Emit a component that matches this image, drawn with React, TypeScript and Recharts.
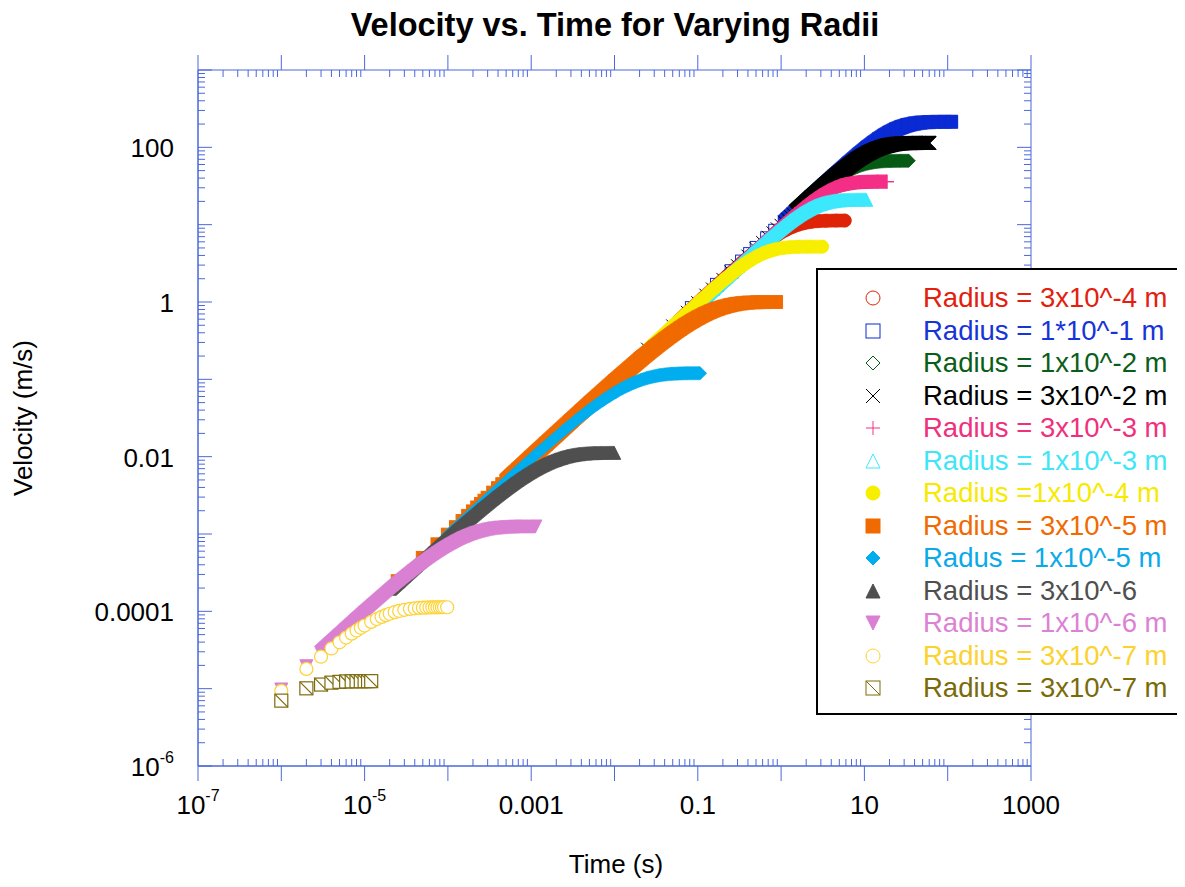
import React from 'react';
import { ScatterChart, Scatter, XAxis, YAxis, ReferenceArea } from 'recharts';

const W = 1169;
const H = 871;
const PLOT_W = 833;
const PLOT_H = 696;
const AXIS = '#4a68dc';
const FONT = '"Liberation Sans", Arial, Helvetica, sans-serif';
const MK = 13;

// axis ticks
const xMajor = [1e-7, 1e-6, 1e-5, 1e-4, 1e-3, 1e-2, 1e-1, 1, 10, 100, 1000];
const yMajor = [1e-6, 1e-5, 1e-4, 1e-3, 1e-2, 1e-1, 1, 10, 100, 1000];
const minorSteps = [2, 3, 4, 5, 6, 7, 8, 9];
const xLabelValues = [1e-7, 1e-5, 1e-3, 1e-1, 10, 1000];
const xLabelTexts = ['10^-7', '10^-5', '0.001', '0.1', '10', '1000'];
const yLabelValues = [1e-6, 1e-4, 1e-2, 1, 100];
const yLabelTexts = ['10^-6', '0.0001', '0.01', '1', '100'];

// [time (s), velocity (m/s)]
const red = [[0.02, 0.196], [0.06, 0.588], [0.115, 1.123], [0.23, 2.225], [0.345, 3.284], [0.46, 4.28], [0.575, 5.21], [0.69, 6.05], [0.81, 6.85], [0.92, 7.49], [1.15, 8.59], [1.38, 9.41], [1.61, 10.0], [1.85, 10.42], [2.3, 10.89], [2.77, 11.12], [3.45, 11.24], [4.6, 11.29], [5.8, 11.3]];
const blue = [[0.085, 0.833], [0.17, 1.666], [0.255, 2.5], [0.34, 3.33], [0.425, 4.16], [0.51, 5.0], [0.68, 6.66], [0.85, 8.33], [1.1, 10.78], [2.2, 21.5], [3.3, 32.1], [4.4, 42.5], [6.5, 61.9], [8.7, 81.0], [11, 99.5], [13, 114.1], [15, 127.5], [17.5, 142.2], [20, 154.9], [24, 171.2], [28, 183.4], [33, 194.1], [40, 203.3], [48, 208.8], [60, 212.2], [75, 213.6], [92, 213.9], [110, 214]];
const green = [[0.35, 3.43], [0.7, 6.83], [1.4, 13.5], [2.05, 19.5], [2.75, 25.6], [3.4, 30.8], [4.1, 35.9], [4.8, 40.6], [5.5, 44.6], [6.85, 51.0], [8.2, 55.8], [9.6, 59.4], [11, 61.8], [13.7, 64.6], [16.5, 65.9], [20.5, 66.7], [27, 66.9], [34, 67]];
const black = [[0.025, 0.245], [0.05, 0.49], [0.075, 0.735], [0.1, 0.98], [0.125, 1.225], [0.15, 1.47], [0.2, 1.96], [0.25, 2.45], [0.3, 2.94], [0.4, 3.92], [0.5, 4.9], [0.6, 5.88], [0.7, 6.86], [0.8, 7.84], [0.9, 8.82], [1.0, 9.79], [1.1, 10.77], [1.2, 11.74], [1.3, 12.71], [1.4, 13.66], [1.5, 14.62], [2.3, 22.3], [3.5, 33.3], [4.6, 42.9], [5.8, 52.6], [7, 61.4], [8.2, 69.3], [9.3, 75.7], [11.6, 86.7], [14, 95.2], [16.3, 100.9], [19, 105.6], [23, 109.7], [28, 112.2], [35, 113.5], [45, 113.9], [60, 114]];
const pink = [[0.19, 1.86], [0.37, 3.61], [0.73, 7.06], [1.1, 10.47], [1.47, 13.68], [1.84, 16.66], [2.2, 19.3], [2.57, 21.8], [2.94, 23.9], [3.67, 27.4], [4.4, 30.0], [5.15, 31.9], [5.9, 33.2], [7.35, 34.7], [8.8, 35.4], [11, 35.8], [14.5, 36.0], [18.6, 36]];
const cyan = [[0.11, 1.077], [0.215, 2.1], [0.43, 4.16], [0.64, 6.09], [0.86, 8.0], [1.07, 9.69], [1.29, 11.31], [1.5, 12.69], [1.71, 13.92], [2.14, 15.98], [2.57, 17.5], [3.0, 18.59], [3.43, 19.36], [4.3, 20.25], [5.15, 20.66], [6.4, 20.9], [8.5, 20.99], [10.5, 21]];
const yellow = [[0.027, 0.265], [0.053, 0.518], [0.106, 1.025], [0.16, 1.523], [0.212, 1.974], [0.265, 2.4], [0.318, 2.79], [0.371, 3.14], [0.424, 3.45], [0.53, 3.96], [0.637, 4.34], [0.743, 4.6], [0.85, 4.79], [1.06, 5.01], [1.27, 5.11], [1.6, 5.175], [2.1, 5.196], [3.1, 5.2]];
const orange = [[2.5e-5, 2.45e-4], [5e-5, 4.9e-4], [7.5e-5, 7.35e-4], [1e-4, 9.8e-4], [1.25e-4, 1.224e-3], [1.5e-4, 1.469e-3], [1.75e-4, 1.713e-3], [2e-4, 1.958e-3], [2.25e-4, 2.202e-3], [2.5e-4, 2.447e-3], [2.75e-4, 2.691e-3], [3e-4, 2.936e-3], [3.5e-4, 3.424e-3], [4e-4, 3.912e-3], [4.5e-4, 4.4e-3], [5e-4, 4.888e-3], [7e-4, 6.84e-3], [1e-3, 9.75e-3], [1.5e-3, 0.0146], [2e-3, 0.0194], [3e-3, 0.029], [4e-3, 0.0384], [5.2e-3, 0.0497], [0.0102, 0.0952], [0.0204, 0.1813], [0.0306, 0.2592], [0.0408, 0.3297], [0.051, 0.3935], [0.0612, 0.4512], [0.0714, 0.5034], [0.0867, 0.5726], [0.102, 0.6321], [0.1224, 0.6988], [0.1428, 0.7534], [0.1734, 0.8173], [0.204, 0.8647], [0.245, 0.9093], [0.286, 0.9392], [0.337, 0.9631], [0.408, 0.9817], [0.51, 0.9933], [0.612, 0.9975], [0.87, 0.9998]];
const skyblue = [[1e-4, 9.8e-4], [6e-4, 5.74e-3], [1.22e-3, 0.01139], [2.45e-3, 0.02176], [3.67e-3, 0.0311], [4.9e-3, 0.03956], [6.12e-3, 0.04722], [7.34e-3, 0.05414], [8.57e-3, 0.0604], [0.0104, 0.0687], [0.01224, 0.07585], [0.0147, 0.08386], [0.0171, 0.0904], [0.0208, 0.0981], [0.0245, 0.1038], [0.0294, 0.1091], [0.0343, 0.1127], [0.0404, 0.1156], [0.049, 0.1178], [0.0612, 0.1192], [0.0734, 0.1197], [0.106, 0.12]];
const gray = [[1e-5, 9.76e-5], [2e-5, 1.943e-4], [3e-5, 2.9e-4], [4e-5, 3.85e-4], [6e-5, 5.73e-4], [1.14e-4, 1.066e-3], [2.29e-4, 2.03e-3], [3.43e-4, 2.9e-3], [4.57e-4, 3.69e-3], [5.72e-4, 4.41e-3], [6.86e-4, 5.05e-3], [8e-4, 5.64e-3], [9.72e-4, 6.41e-3], [1.143e-3, 7.08e-3], [1.37e-3, 7.83e-3], [1.6e-3, 8.44e-3], [1.94e-3, 9.15e-3], [2.29e-3, 9.68e-3], [2.74e-3, 0.01018], [3.2e-3, 0.01052], [3.77e-3, 0.01079], [4.57e-3, 0.011], [5.72e-3, 0.01113], [6.86e-3, 0.01117], [9.9e-3, 0.0112]];
const violet = [[1e-6, 9.76e-6], [2e-6, 1.95e-5], [3e-6, 2.91e-5], [4e-6, 3.86e-5], [5e-6, 4.8e-5], [6e-6, 5.75e-5], [7e-6, 6.67e-5], [8e-6, 7.6e-5], [1e-5, 9.43e-5], [1.28e-5, 1.19e-4], [2.55e-5, 2.27e-4], [3.83e-5, 3.24e-4], [5.1e-5, 4.12e-4], [6.38e-5, 4.92e-4], [7.66e-5, 5.64e-4], [8.93e-5, 6.29e-4], [1.085e-4, 7.16e-4], [1.276e-4, 7.9e-4], [1.53e-4, 8.74e-4], [1.79e-4, 9.42e-4], [2.17e-4, 1.022e-3], [2.55e-4, 1.081e-3], [3.06e-4, 1.137e-3], [3.57e-4, 1.174e-3], [4.21e-4, 1.204e-3], [5.1e-4, 1.227e-3], [6.38e-4, 1.242e-3], [7.66e-4, 1.247e-3], [1.12e-3, 1.25e-3]];
const gold = [[1e-6, 9.38e-6], [2e-6, 1.8e-5], [3e-6, 2.59e-5], [4e-6, 3.31e-5], [5e-6, 3.98e-5], [6e-6, 4.58e-5], [7e-6, 5.14e-5], [8e-6, 5.65e-5], [9e-6, 6.12e-5], [1e-5, 6.55e-5], [1.2e-5, 7.31e-5], [1.4e-5, 7.94e-5], [1.6e-5, 8.48e-5], [1.8e-5, 8.93e-5], [2e-5, 9.31e-5], [2.3e-5, 9.76e-5], [2.6e-5, 1.011e-4], [3e-5, 1.046e-4], [3.5e-5, 1.076e-4], [4e-5, 1.095e-4], [4.5e-5, 1.107e-4], [5e-5, 1.115e-4], [5.5e-5, 1.12e-4], [6e-5, 1.124e-4], [6.5e-5, 1.126e-4], [7e-5, 1.127e-4], [7.5e-5, 1.128e-4], [8e-5, 1.129e-4], [8.5e-5, 1.129e-4], [9e-5, 1.13e-4], [9.8e-5, 1.13e-4]];
const olive = [[1e-6, 7.0e-6], [2e-6, 1.01e-5], [3e-6, 1.13e-5], [4e-6, 1.196e-5], [5e-6, 1.225e-5], [6e-6, 1.239e-5], [7e-6, 1.245e-5], [8e-6, 1.248e-5], [9e-6, 1.249e-5], [1e-5, 1.25e-5], [1.1e-5, 1.25e-5], [1.2e-5, 1.25e-5]];

type Kind = 'circle' | 'square' | 'diamond' | 'cross' | 'plus' | 'triangle' | 'triangleDown' | 'squareSlash';

interface SeriesDef {
  name: string;
  data: number[][];
  color: string;
  text: string;
  kind: Kind;
  filled: boolean;
  band: number | null;
}

const SERIES: SeriesDef[] = [
  { name: 'Radius = 3x10^-4 m', data: red, color: '#df2306', text: '#e3200e', kind: 'circle', filled: false, band: 0.06 },
  { name: 'Radius = 1*10^-1 m', data: blue, color: '#0a2ad4', text: '#1634d8', kind: 'square', filled: false, band: 1.1 },
  { name: 'Radius = 1x10^-2 m', data: green, color: '#065a14', text: '#0b5e18', kind: 'diamond', filled: false, band: 0.35 },
  { name: 'Radius = 3x10^-2 m', data: black, color: '#000000', text: '#000000', kind: 'cross', filled: false, band: 1.5 },
  { name: 'Radius = 3x10^-3 m', data: pink, color: '#f42e86', text: '#f0307c', kind: 'plus', filled: false, band: 0.19 },
  { name: 'Radius = 1x10^-3 m', data: cyan, color: '#3ce8fb', text: '#40e6f8', kind: 'triangle', filled: false, band: 0.11 },
  { name: 'Radius =1x10^-4 m', data: yellow, color: '#f7ee00', text: '#f7ea00', kind: 'circle', filled: true, band: 0.027 },
  { name: 'Radius = 3x10^-5 m', data: orange, color: '#f06a00', text: '#f06a00', kind: 'square', filled: true, band: 5e-4 },
  { name: 'Radus = 1x10^-5 m', data: skyblue, color: '#00adee', text: '#0aaae8', kind: 'diamond', filled: true, band: 1e-4 },
  { name: 'Radius = 3x10^-6', data: gray, color: '#4f4f4f', text: '#4f4f4f', kind: 'triangle', filled: true, band: 2e-5 },
  { name: 'Radius = 1x10^-6 m', data: violet, color: '#da80d3', text: '#dc82d4', kind: 'triangleDown', filled: true, band: 3e-6 },
  { name: 'Radius = 3x10^-7 m', data: gold, color: '#fdd234', text: '#fcd22e', kind: 'circle', filled: false, band: null },
  { name: 'Radius = 3x10^-7 m', data: olive, color: '#7d6c0c', text: '#7a6a08', kind: 'squareSlash', filled: false, band: null },
];

const withMinors = (majors: number[]) => [
  ...majors,
  ...majors.slice(0, -1).flatMap((m) => minorSteps.map((k) => Number((m * k).toPrecision(3)))),
];
const xTicks = withMinors(xMajor);
const yTicks = withMinors(yMajor);

const isDecade = (v: number) => Math.abs(Math.log10(v) - Math.round(Math.log10(v))) < 1e-6;
const findLabel = (v: number, vals: number[], texts: string[]) => {
  const i = vals.findIndex((d) => Math.abs(d - v) / d < 1e-6);
  return i >= 0 ? texts[i] : null;
};

// outline of each marker kind, as convex parts (offsets from the centre)
const CIRCLE_UNIT = Array.from({ length: 20 }, (_, i) => [Math.cos((i * Math.PI) / 10), Math.sin((i * Math.PI) / 10)]);
const markerParts = (kind: Kind, h: number): number[][][] => {
  switch (kind) {
    case 'square':
      return [[[-h, -h], [h, -h], [h, h], [-h, h]]];
    case 'diamond':
      return [[[0, -h], [h, 0], [0, h], [-h, 0]]];
    case 'triangle':
      return [[[0, -h], [h, h], [-h, h]]];
    case 'triangleDown':
      return [[[-h, -h], [h, -h], [0, h]]];
    case 'cross':
      return [[[-h, -h], [h, h]], [[-h, h], [h, -h]]];
    case 'plus':
      return [[[-h, 0], [h, 0]], [[0, -h], [0, h]]];
    default:
      return [CIRCLE_UNIT.map(([a, b]) => [a * h, b * h])];
  }
};

const hull = (pts: number[][]) => {
  const p = pts.slice().sort((a, b) => a[0] - b[0] || a[1] - b[1]);
  if (p.length < 3) return p;
  const cr = (o: number[], a: number[], b: number[]) => (a[0] - o[0]) * (b[1] - o[1]) - (a[1] - o[1]) * (b[0] - o[0]);
  const lower: number[][] = [];
  for (const q of p) {
    while (lower.length >= 2 && cr(lower[lower.length - 2], lower[lower.length - 1], q) <= 0) lower.pop();
    lower.push(q);
  }
  const upper: number[][] = [];
  for (let i = p.length - 1; i >= 0; i--) {
    const q = p[i];
    while (upper.length >= 2 && cr(upper[upper.length - 2], upper[upper.length - 1], q) <= 0) upper.pop();
    upper.push(q);
  }
  upper.pop();
  lower.pop();
  return lower.concat(upper);
};

// dense runs of markers merge into a band: sweep the marker along the joined points
const makeBand = (kind: Kind, color: string) => (props: any) => {
  const pts = props.points || [];
  const parts = markerParts(kind, MK / 2);
  const polys: string[] = [];
  for (let i = 0; i < pts.length; i++) {
    const a = pts[i];
    const b = pts[i + 1] || pts[i];
    for (const part of parts) {
      const verts = [...part.map(([dx, dy]) => [a.x + dx, a.y + dy]), ...part.map(([dx, dy]) => [b.x + dx, b.y + dy])];
      polys.push(hull(verts).map((q) => `${q[0].toFixed(2)},${q[1].toFixed(2)}`).join(' '));
    }
  }
  const sw = kind === 'cross' || kind === 'plus' ? 1.3 : 0.6;
  return (
    <g>
      {polys.map((p, k) => (
        <polygon key={k} points={p} fill={color} stroke={color} strokeWidth={sw} strokeLinejoin="round" />
      ))}
    </g>
  );
};

const Marker = ({ kind, cx, cy, s, color, fill, sw = 1 }: any) => {
  const h = s / 2;
  switch (kind) {
    case 'circle':
      return <circle cx={cx} cy={cy} r={h} fill={fill} stroke={color} strokeWidth={sw} />;
    case 'square':
      return <rect x={cx - h} y={cy - h} width={s} height={s} fill={fill} stroke={color} strokeWidth={sw} />;
    case 'squareSlash':
      return (
        <g>
          <rect x={cx - h} y={cy - h} width={s} height={s} fill={fill} stroke={color} strokeWidth={sw} />
          <line x1={cx - h} y1={cy - h} x2={cx + h} y2={cy + h} stroke={color} strokeWidth={sw} />
        </g>
      );
    case 'diamond':
      return <polygon points={`${cx},${cy - h} ${cx + h},${cy} ${cx},${cy + h} ${cx - h},${cy}`} fill={fill} stroke={color} strokeWidth={sw} />;
    case 'triangle':
      return <polygon points={`${cx},${cy - h} ${cx + h},${cy + h} ${cx - h},${cy + h}`} fill={fill} stroke={color} strokeWidth={sw} />;
    case 'triangleDown':
      return <polygon points={`${cx - h},${cy - h} ${cx + h},${cy - h} ${cx},${cy + h}`} fill={fill} stroke={color} strokeWidth={sw} />;
    case 'cross':
      return (
        <g stroke={color} strokeWidth={sw}>
          <line x1={cx - h} y1={cy - h} x2={cx + h} y2={cy + h} />
          <line x1={cx - h} y1={cy + h} x2={cx + h} y2={cy - h} />
        </g>
      );
    case 'plus':
      return (
        <g stroke={color} strokeWidth={sw}>
          <line x1={cx - h} y1={cy} x2={cx + h} y2={cy} />
          <line x1={cx} y1={cy - h} x2={cx} y2={cy + h} />
        </g>
      );
    default:
      return null;
  }
};

const TickText = ({ x, y, text, anchor }: any) => {
  const [base, sup] = text.split('^');
  return (
    <text x={x} y={y} textAnchor={anchor} fontSize={26} fontFamily={FONT} fill="#000">
      {base}
      {sup && (
        <tspan dy={-13} fontSize={16}>
          {sup}
        </tspan>
      )}
    </text>
  );
};

const XTick = (props: any) => {
  const { x, y, payload } = props;
  const v = payload.value;
  const major = isDecade(v);
  const label = findLabel(v, xLabelValues, xLabelTexts);
  const top = y - PLOT_H;
  return (
    <g>
      {major ? (
        <g stroke={AXIS} strokeWidth={1}>
          <line x1={x} x2={x} y1={y} y2={y + 15} />
          <line x1={x} x2={x} y1={top} y2={top - 15} />
        </g>
      ) : (
        <g stroke={AXIS} strokeWidth={1}>
          <line x1={x} x2={x} y1={y} y2={y - 7} />
          <line x1={x} x2={x} y1={top} y2={top + 7} />
        </g>
      )}
      {label && <TickText x={x} y={y + 48} text={label} anchor="middle" />}
    </g>
  );
};

const YTick = (props: any) => {
  const { x, y, payload } = props;
  const v = payload.value;
  const len = isDecade(v) ? 14 : 7;
  const label = findLabel(v, yLabelValues, yLabelTexts);
  const right = x + PLOT_W;
  return (
    <g>
      <g stroke={AXIS} strokeWidth={1}>
        <line x1={x} x2={x + len} y1={y} y2={y} />
        <line x1={right} x2={right - len} y1={y} y2={y} />
      </g>
      {label && <TickText x={x - 24} y={y + 10} text={label} anchor="end" />}
    </g>
  );
};

const LegendBox = () => (
  <div
    style={{
      position: 'absolute',
      left: 808,
      top: 260,
      width: 367,
      height: 447,
      boxSizing: 'border-box',
      border: '2px solid #000',
      background: '#fff',
    }}
  >
    {SERIES.map((s, i) => (
      <div key={i} style={{ position: 'absolute', left: 0, right: 0, top: 28 + i * 32.5 - 16, height: 32 }}>
        <svg width={18} height={18} style={{ position: 'absolute', left: 46, top: 7 }}>
          <Marker kind={s.kind} cx={9} cy={9} s={14} color={s.color} fill={s.filled ? s.color : 'none'} sw={1} />
        </svg>
        <span
          style={{
            position: 'absolute',
            left: 105,
            top: 0,
            lineHeight: '32px',
            fontSize: 27.5,
            color: s.text,
            whiteSpace: 'nowrap',
            fontFamily: FONT,
          }}
        >
          {s.name}
        </span>
      </div>
    ))}
  </div>
);

const toPts = (arr: number[][]) => arr.map(([t, v]) => ({ t, v }));

export default function App() {
  return (
    <div style={{ position: 'relative', width: W, height: H, background: '#fff', fontFamily: FONT }}>
      <ScatterChart width={W} height={H} margin={{ top: 62, right: 146, bottom: 83, left: 130 }}>
        <XAxis
          type="number"
          dataKey="t"
          scale="log"
          domain={[1e-7, 1000]}
          allowDataOverflow
          ticks={xTicks}
          interval={0}
          tick={(p: any) => <XTick {...p} />}
          tickLine={false}
          tickSize={0}
          tickMargin={0}
          height={30}
          axisLine={{ stroke: AXIS }}
        />
        <YAxis
          type="number"
          dataKey="v"
          scale="log"
          domain={[1e-6, 1000]}
          allowDataOverflow
          ticks={yTicks}
          interval={0}
          tick={(p: any) => <YTick {...p} />}
          tickLine={false}
          tickSize={0}
          tickMargin={0}
          width={60}
          axisLine={{ stroke: AXIS }}
        />
        <ReferenceArea x1={1e-7} x2={1000} y1={1e-6} y2={1000} fill="none" stroke={AXIS} strokeWidth={1} ifOverflow="visible" />
        {SERIES.flatMap((s, i) => {
          const pts = toPts(s.data);
          const bandPts = s.band == null ? [] : pts.filter((p) => p.t >= (s.band as number));
          const markPts = s.band == null ? pts : pts.filter((p) => p.t < (s.band as number));
          const out: any[] = [];
          if (bandPts.length) {
            out.push(
              <Scatter
                key={`band-${i}`}
                data={bandPts}
                fill={s.color}
                isAnimationActive={false}
                legendType="none"
                line={makeBand(s.kind, s.color)}
                shape={() => <g />}
              />
            );
          }
          if (markPts.length) {
            const hollowFill = s.band == null ? '#fff' : 'none';
            out.push(
              <Scatter
                key={`mark-${i}`}
                name={s.name}
                data={markPts}
                fill={s.color}
                isAnimationActive={false}
                shape={(p: any) => (
                  <Marker kind={s.kind} cx={p.cx} cy={p.cy} s={MK} color={s.color} fill={s.filled ? s.color : hollowFill} sw={s.band == null ? 1.2 : 1} />
                )}
              />
            );
          }
          return out;
        })}
      </ScatterChart>

      <div
        style={{
          position: 'absolute',
          left: 207,
          top: 1,
          width: 800,
          textAlign: 'center',
          fontSize: 32.5,
          lineHeight: '32px',
          fontWeight: 'bold',
          color: '#000',
        }}
      >
        Velocity vs. Time for Varying Radii
      </div>
      <div
        style={{
          position: 'absolute',
          left: 408,
          top: 843,
          width: 400,
          textAlign: 'center',
          fontSize: 26,
          lineHeight: '26px',
          color: '#000',
        }}
      >
        Time (s)
      </div>
      <div style={{ position: 'absolute', left: 15, top: 410, width: 0, height: 0 }}>
        <div
          style={{
            position: 'absolute',
            left: -150,
            top: -13,
            width: 300,
            textAlign: 'center',
            fontSize: 26,
            lineHeight: '26px',
            color: '#000',
            transform: 'rotate(-90deg)',
            transformOrigin: '150px 13px',
            whiteSpace: 'nowrap',
          }}
        >
          Velocity (m/s)
        </div>
      </div>
      <LegendBox />
    </div>
  );
}
